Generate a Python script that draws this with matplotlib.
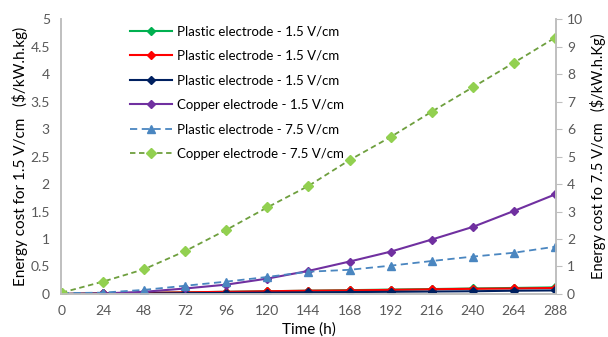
import numpy as np
import matplotlib.pyplot as plt
from matplotlib.ticker import FuncFormatter

plt.rcParams['font.family'] = ['Lato', 'DejaVu Sans']

hours = [0, 24, 48, 72, 96, 120, 144, 168, 192, 216, 240, 264, 288]

# left axis (1.5 V/cm)
plastic_a = [0, 0.01, 0.02, 0.03, 0.04, 0.05, 0.06, 0.07, 0.08, 0.09, 0.10, 0.11, 0.12]
plastic_b = [0, 0.01, 0.02, 0.03, 0.04, 0.05, 0.06, 0.065, 0.075, 0.085, 0.095, 0.10, 0.11]
plastic_c = [0, 0.005, 0.01, 0.015, 0.02, 0.025, 0.03, 0.035, 0.04, 0.045, 0.05, 0.06, 0.065]
copper_15 = [0, 0.01, 0.04, 0.10, 0.17, 0.28, 0.42, 0.59, 0.77, 0.99, 1.22, 1.51, 1.81]

# right axis (7.5 V/cm)
plastic_75 = [0.03, 0.05, 0.15, 0.30, 0.45, 0.62, 0.81, 0.88, 1.03, 1.2, 1.36, 1.5, 1.72]
copper_75 = [0.05, 0.45, 0.9, 1.56, 2.33, 3.15, 3.93, 4.87, 5.71, 6.63, 7.52, 8.41, 9.32]

grey = '#595959'
spine = '#bfbfbf'

fig = plt.figure(figsize=(6.08, 3.37), dpi=100)
ax = fig.add_axes([0.1003, 0.1276, 0.814, 0.816])
ax2 = ax.twinx()

l1, = ax.plot(hours, plastic_a, color='#00B050', marker='D', ms=4.5, lw=1.5,
              label='Plastic electrode - 1.5 V/cm')
l2, = ax.plot(hours, plastic_b, color='#FF0000', marker='D', ms=4.5, lw=1.5,
              label='Plastic electrode - 1.5 V/cm')
l3, = ax.plot(hours, plastic_c, color='#002060', marker='D', ms=4.5, lw=1.5,
              label='Plastic electrode - 1.5 V/cm')
l4, = ax.plot(hours, copper_15, color='#7030A0', marker='D', ms=4.5, lw=1.5,
              label='Copper electrode - 1.5 V/cm')
l5, = ax2.plot(hours, plastic_75, color='#4A86C0', marker='^', ms=6, lw=1.3,
               ls=(0, (4, 2.5)), label='Plastic electrode - 7.5 V/cm')
l6, = ax2.plot(hours, copper_75, color='#6E9F3E', marker='D', ms=5,
               mfc='#92D050', mec='#92D050', lw=1.3, ls=(0, (3, 2)),
               label='Copper electrode - 7.5 V/cm')

ax.set_xlim(-0.5, 288.5)
ax.set_ylim(0, 5)
ax2.set_ylim(0, 10)
ax.set_xticks(hours)
ax.set_yticks(np.arange(0, 5.01, 0.5))
ax2.set_yticks(range(0, 11))
ax.yaxis.set_major_formatter(FuncFormatter(lambda v, p: '%g' % v))

for a in (ax, ax2):
    a.spines['top'].set_visible(False)
    for s in ('left', 'right', 'bottom'):
        a.spines[s].set_color(spine)
        a.spines[s].set_linewidth(1.2)
    a.tick_params(colors=grey, labelsize=10)

ax.tick_params(axis='y', length=0, pad=8)
ax.tick_params(axis='x', length=0, pad=8)
ax2.tick_params(axis='y', length=4, color=spine, pad=4)

ax.set_xlabel('Time (h)', fontsize=11, color='black', labelpad=4)
ax.set_ylabel('Energy cost for 1.5 V/cm   ($/kW.h.kg)', fontsize=11, labelpad=2)
ax2.set_ylabel('Energy cost fo 7.5 V/cm   ($/kW.h.Kg)', fontsize=10.5, labelpad=5)

ax2.legend(handles=[l1, l2, l3, l4, l5, l6], loc='upper left',
           bbox_to_anchor=(0.115, 1.02), frameon=False, fontsize=9.5,
           handlelength=3.2, labelspacing=0.95, handletextpad=0.4)

fig.savefig('out.png', dpi=100)
